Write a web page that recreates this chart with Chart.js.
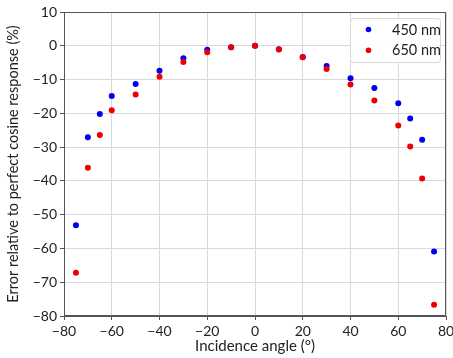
<!DOCTYPE html>
<html>
<head>
<meta charset="utf-8">
<script src="https://cdn.jsdelivr.net/npm/chart.js@4/dist/chart.umd.min.js"></script>
<style>
  html, body { margin: 0; padding: 0; background: #fff; }
  #wrap { width: 453px; height: 358px; position: relative; }
</style>
</head>
<body>
<div id="wrap"><canvas id="chart"></canvas></div>
<script>
// Incidence angles (degrees)
const angles = [-75, -70, -65, -60, -50, -40, -30, -20, -10, 0, 10, 20, 30, 40, 50, 60, 65, 70, 75];

// Error relative to perfect cosine response (%)
const blue450 = [-53.1, -27.1, -20.2, -14.9, -11.3, -7.4, -3.7, -1.2, -0.4, 0, -1.0, -3.3, -6.0, -9.6, -12.5, -17.0, -21.5, -27.8, -60.9];
const red650  = [-67.2, -36.1, -26.4, -19.1, -14.4, -9.2, -4.8, -1.9, -0.4, 0, -1.1, -3.4, -6.9, -11.5, -16.2, -23.6, -29.8, -39.3, -76.7];

const seriesLabels = ['450 nm', '650 nm'];
const FONT = "Lato, 'DejaVu Sans', sans-serif";
const minus = (v) => String(v).replace('-', '\u2212');

const toPoints = (ys) => angles.map((x, i) => ({ x, y: ys[i] }));

// frame around the plot area + legend box in the upper right
const framePlugin = {
  id: 'frame',
  afterDraw(chart) {
    const { ctx, chartArea: a } = chart;
    ctx.save();
    ctx.strokeStyle = '#555';
    ctx.lineWidth = 1;
    ctx.strokeRect(a.left + 0.5, a.top + 0.5, a.right - a.left - 1, a.bottom - a.top - 1);

    // legend (450 nm first, as in the picture)
    const bx = a.right - 96, by = a.top + 6, bw = 90, bh = 44;
    ctx.fillStyle = 'rgba(255,255,255,0.85)';
    ctx.strokeStyle = '#d8d8d8';
    ctx.beginPath();
    ctx.roundRect(bx + 0.5, by + 0.5, bw, bh, 3);
    ctx.fill();
    ctx.stroke();
    ctx.font = '14.5px ' + FONT;
    ctx.textBaseline = 'middle';
    seriesLabels.forEach((label, i) => {
      const ds = chart.data.datasets.find((d) => d.label === label);
      const y = by + 11.5 + i * 20.7;
      ctx.fillStyle = ds.backgroundColor;
      ctx.beginPath();
      ctx.arc(bx + 18.5, y, 2.8, 0, Math.PI * 2);
      ctx.fill();
      ctx.fillStyle = '#222';
      ctx.textAlign = 'left';
      ctx.fillText(label, bx + 42, y + 0.5);
    });
    ctx.restore();
  }
};

new Chart(document.getElementById('chart'), {
  type: 'scatter',
  data: {
    datasets: [
      { label: seriesLabels[0], data: toPoints(blue450), backgroundColor: '#0000ee', borderWidth: 0, pointRadius: 3, order: 1 },
      { label: seriesLabels[1], data: toPoints(red650),  backgroundColor: '#ee0000', borderWidth: 0, pointRadius: 3, order: 0 },
    ],
  },
  options: {
    responsive: true,
    maintainAspectRatio: false,
    animation: false,
    layout: { padding: { top: 12, right: 7, left: 0, bottom: 0 } },
    plugins: {
      legend: { display: false },
      tooltip: { enabled: false },
    },
    scales: {
      x: {
        type: 'linear',
        min: -80, max: 80,
        afterFit: (s) => { s.height = 42; s.paddingLeft = 0; s.paddingRight = 0; },
        ticks: {
          stepSize: 20,
          color: '#222',
          font: { family: FONT, size: 14 },
          padding: 3,
          callback: (v) => minus(v),
        },
        grid: { color: '#d9d9d9', tickLength: 4, tickColor: '#555' },
        border: { color: '#555' },
        title: {
          display: true,
          text: 'Incidence angle (°)',
          color: '#222',
          font: { family: FONT, size: 15 },
          padding: { top: 0, bottom: 3 },
        },
      },
      y: {
        min: -80, max: 10,
        afterFit: (s) => { s.width = 64; s.paddingTop = 0; s.paddingBottom = 0; },
        ticks: {
          stepSize: 10,
          color: '#222',
          font: { family: FONT, size: 14 },
          padding: 3,
          callback: (v) => minus(v),
        },
        grid: { color: '#d9d9d9', tickLength: 4, tickColor: '#555' },
        border: { color: '#555' },
        title: {
          display: true,
          text: 'Error relative to perfect cosine response (%)',
          color: '#222',
          font: { family: FONT, size: 14.5 },
          padding: { top: 5, bottom: 2 },
        },
      },
    },
  },
  plugins: [framePlugin],
});
</script>
</body>
</html>
